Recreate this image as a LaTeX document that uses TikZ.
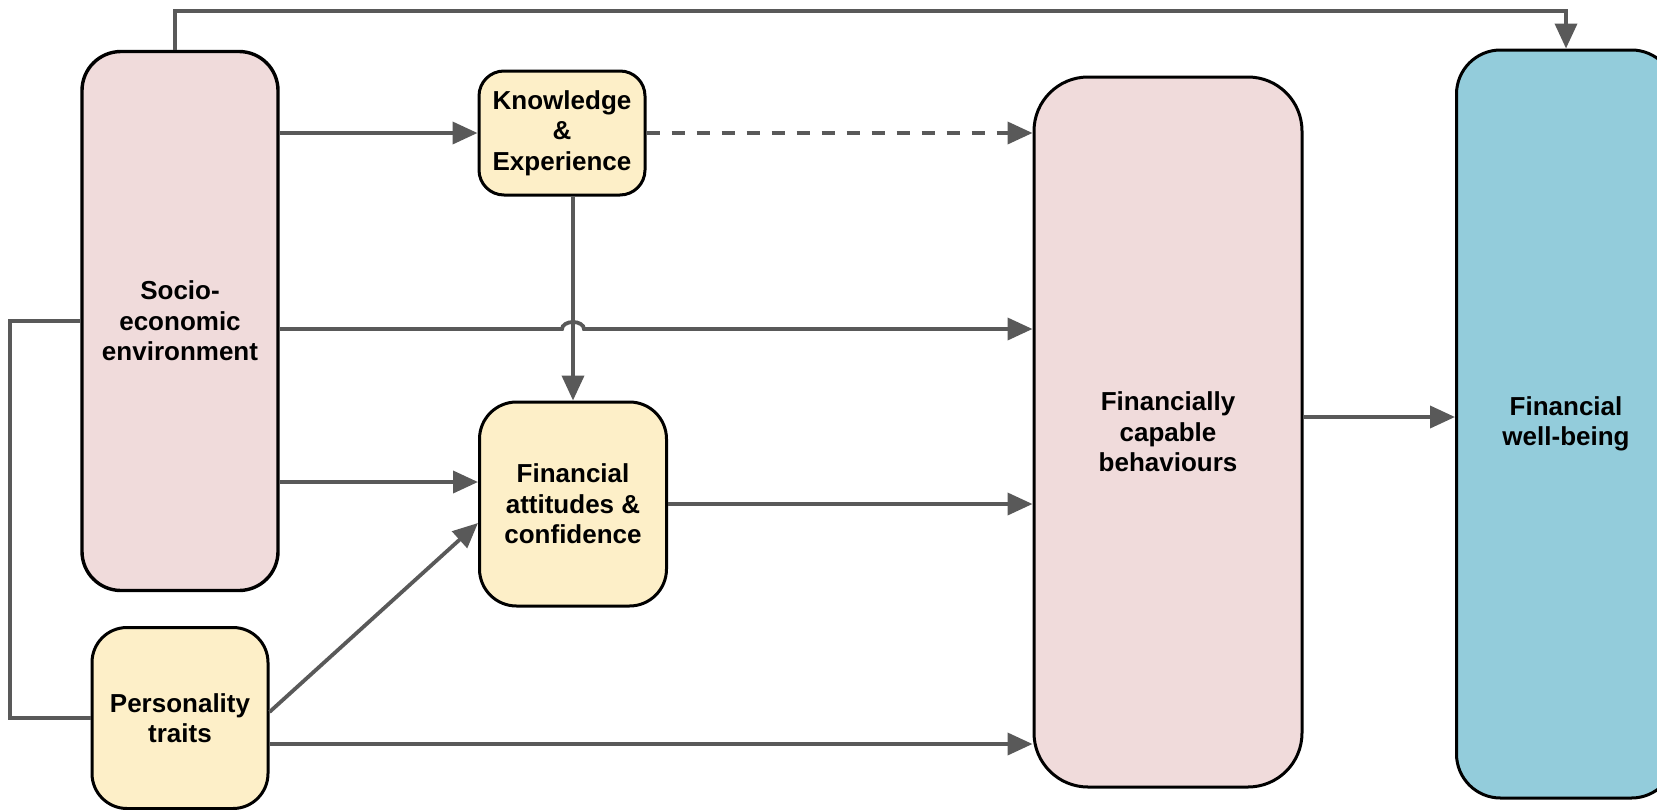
\documentclass[tikz,border=0pt]{standalone}
\usepackage{fontspec}
\setmainfont{Liberation Sans}
\usepackage{xcolor}
\usepackage{tikz}
\usetikzlibrary{arrows.meta,calc}

\definecolor{rosa}{HTML}{F0DBDB}
\definecolor{amarelo}{HTML}{FDEFC8}
\definecolor{azul}{HTML}{93CCDB}
\definecolor{linha}{HTML}{595959}

\begin{document}
\begin{tikzpicture}[
    x=1pt, y=-1pt,
    caixa/.style={draw, line width=3pt, align=center, inner sep=0pt,
        font=\bfseries\fontsize{26}{30.5}\selectfont},
    seta/.style={-{Triangle[length=25pt, width=22pt]}, line width=3.8pt, color=linha},
    tracejada/.style={seta, dash pattern=on 13pt off 12pt},
    ligacao/.style={line width=3.8pt, color=linha}
]
    \clip (0,0) rectangle (1657,809);

    \node[caixa, fill=rosa, line width=3.4pt, rounded corners=39pt,
        minimum width=196pt, minimum height=539pt] (socio) at (180,321)
        {Socio-\\economic\\environment};
    \node[caixa, fill=amarelo, rounded corners=25pt,
        minimum width=166pt, minimum height=124pt] (knowledge) at (562,133)
        {Knowledge\\\&\\Experience};
    \node[caixa, fill=amarelo, rounded corners=37pt,
        minimum width=187pt, minimum height=204pt] (attitudes) at (573,504)
        {Financial\\attitudes \&\\confidence};
    \node[caixa, fill=amarelo, rounded corners=35pt,
        minimum width=176pt, minimum height=181pt] (personality) at (180,718)
        {Personality\\traits};
    \node[caixa, fill=rosa, rounded corners=54pt,
        minimum width=268pt, minimum height=710pt] (behaviours) at (1168,432)
        {Financially\\capable\\behaviours};
    \node[caixa, fill=azul, rounded corners=44pt,
        minimum width=219pt, minimum height=748pt] (wellbeing) at (1566,424)
        {Financial\\well-being};

    % ligações
    \draw[seta] ([xshift=-5pt]socio.north) -- ++(0pt,39pt) -| (wellbeing.north);
    \draw[ligacao] (socio.west) -- ++(-70pt,0pt) |- (personality.west);
    \draw[seta] (socio.east |- knowledge.west) -- (knowledge.west);
    \draw[tracejada] (knowledge.east) -- (knowledge.east -| behaviours.west);
    \draw[seta] (attitudes.north |- knowledge.south) -- (attitudes.north);
    \draw[seta] ([yshift=-8pt]socio.east)
        -- ($(attitudes.north |- socio.east)+(-11pt,-8pt)$)
        arc[start angle=180, end angle=0, x radius=11pt, y radius=7pt]
        -- ($(socio.east -| behaviours.west)+(0pt,-8pt)$);
    \draw[seta] ([yshift=-161pt]socio.east) -- ([yshift=22pt]attitudes.west);
    \draw[seta] ([yshift=6pt]personality.east) -- ([yshift=-19pt]attitudes.west);
    \draw[seta] (attitudes.east) -- (attitudes.east -| behaviours.west);
    \draw[seta] ([yshift=-26pt]personality.east)
        -- ($(personality.east -| behaviours.west)+(0pt,-26pt)$);
    \draw[seta] ([yshift=15pt]behaviours.east) -- ([yshift=7pt]wellbeing.west);
\end{tikzpicture}
\end{document}
